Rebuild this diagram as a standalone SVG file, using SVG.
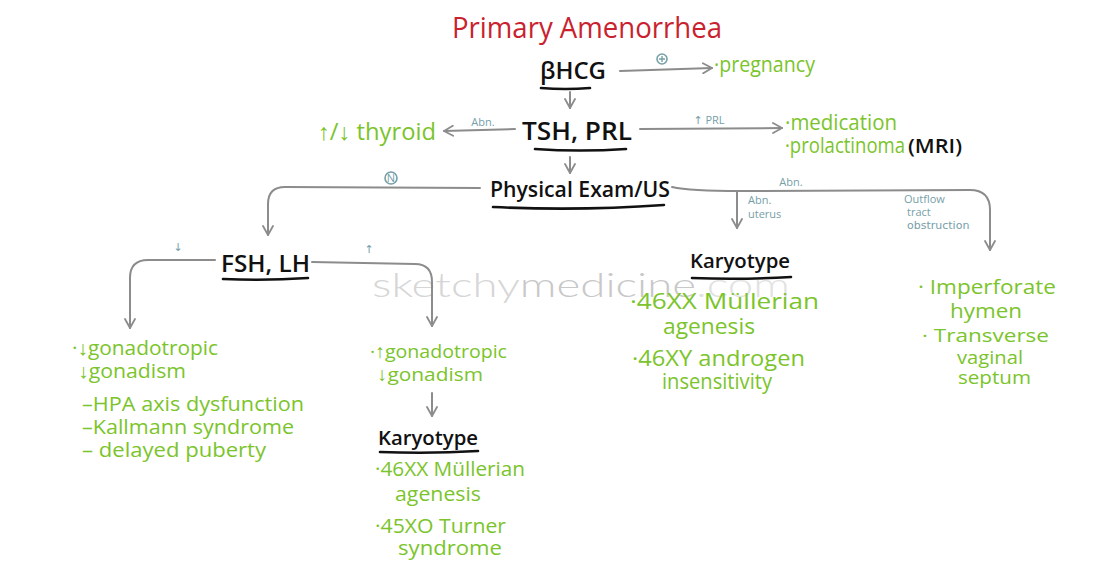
<svg xmlns="http://www.w3.org/2000/svg" width="1106" height="574" viewBox="0 0 1106 574">
<defs>
<marker id="ah" viewBox="0 0 12 12" refX="10" refY="6" markerWidth="12" markerHeight="12" markerUnits="userSpaceOnUse" orient="auto">
<path d="M1,1 L10,6 L1,11" fill="none" stroke="#8c8c8c" stroke-width="1.8" stroke-linecap="round" stroke-linejoin="round"/>
</marker>
<style>
.t{font-family:"Open Sans","Liberation Sans",sans-serif;}
.blk{fill:#111;font-weight:600;}
.grn{fill:#7bc42b;}
.lbl{fill:#76a0a8;font-size:11px;}
.ar{font-family:"DejaVu Sans",sans-serif;}
.ul{stroke:#111;stroke-width:2.6;fill:none;stroke-linecap:round;}
.cn{stroke:#8c8c8c;stroke-width:2;fill:none;stroke-linecap:round;marker-end:url(#ah);}
.wm{font-family:Lato,"Open Sans",sans-serif;font-weight:300;font-size:34px;}
</style>
</defs>
<rect width="1106" height="574" fill="#fff"/>
<text class="wm" x="372" y="297" fill="#d6d6d6" textLength="418" lengthAdjust="spacingAndGlyphs">sketchy<tspan fill="#c8c8c8">medicine</tspan><tspan fill="#e2e2e2">.com</tspan></text>
<g id="title"><text class="t" x="452" y="38" font-size="30" fill="#c9222e" textLength="270" lengthAdjust="spacingAndGlyphs">Primary Amenorrhea</text></g>
<g id="connectors">
<path class="cn" d="M620,71 L712,68"/>
<path class="cn" d="M570,92 L570,108"/>
<path class="cn" d="M515,129 L444,131"/>
<path class="cn" d="M640,129 L782,128"/>
<path class="cn" d="M570,157 L570,173"/>
<path class="cn" d="M480,188 L285,187 Q268,187 268,204 L268,235"/>
<path class="cn" d="M672,187 Q690,191 740,191 L970,190 Q990,190 990,210 L990,250"/>
<path class="cn" d="M737,192 L737,228"/>
<path class="cn" d="M215,260 L148,260 Q130,260 130,278 L130,328"/>
<path class="cn" d="M312,262 L415,264 Q432,264 432,282 L432,326"/>
<path class="cn" d="M432,393 L432,416"/>
</g>
<g id="labels" class="t">
<g><circle cx="662" cy="59" r="5" fill="none" stroke="#76a0a8" stroke-width="1.6"/><path d="M659,59 H665 M662,56 V62" stroke="#76a0a8" stroke-width="1.4"/></g>
<text class="lbl" x="483" y="126" text-anchor="middle">Abn.</text>
<text class="lbl" x="709" y="124" text-anchor="middle"><tspan class="ar">↑</tspan> PRL</text>
<g><circle cx="391" cy="178" r="6" fill="none" stroke="#76a0a8" stroke-width="1.6"/><text class="lbl" x="391" y="182" text-anchor="middle" font-size="9">N</text></g>
<text class="lbl" x="791" y="186" text-anchor="middle" font-size="12">Abn.</text>
<text class="lbl" x="748" y="204">Abn.</text>
<text class="lbl" x="748" y="218">uterus</text>
<text class="lbl" x="904" y="203" font-size="12">Outflow</text>
<text class="lbl" x="907" y="216">tract</text>
<text class="lbl ar" x="907" y="229" font-family="Open Sans">obstruction</text>
<text class="lbl ar" x="178" y="251" text-anchor="middle" font-size="14">↓</text>
<text class="lbl ar" x="369" y="253" text-anchor="middle" font-size="14">↑</text>
</g>
<g id="bhcg"><text class="t blk" x="540" y="79" font-size="23" textLength="66" lengthAdjust="spacingAndGlyphs">βHCG</text><path class="ul" d="M541,88 Q565,90 590,88"/></g>
<g id="pregnancy"><text class="t grn" x="714" y="72" font-size="21" textLength="101" lengthAdjust="spacingAndGlyphs">·pregnancy</text></g>
<g id="tsh"><text class="t blk" x="522" y="140" font-size="26" textLength="110" lengthAdjust="spacingAndGlyphs">TSH, PRL</text><path class="ul" d="M535,149 Q580,152 626,149"/></g>
<g id="thyroid"><text class="t grn" x="318" y="140" font-size="23" textLength="118" lengthAdjust="spacingAndGlyphs">↑/↓ thyroid</text></g>
<g id="prl-causes">
<text class="t grn" x="785" y="130" font-size="21" textLength="112" lengthAdjust="spacingAndGlyphs">·medication</text>
<text class="t grn" x="785" y="153" font-size="21" textLength="120" lengthAdjust="spacingAndGlyphs">·prolactinoma</text>
<text class="t blk" x="908" y="153" font-size="19" textLength="54" lengthAdjust="spacingAndGlyphs">(MRI)</text>
</g>
<g id="exam"><text class="t blk" x="490" y="197" font-size="21" textLength="180" lengthAdjust="spacingAndGlyphs">Physical Exam/US</text><path class="ul" d="M493,207 Q580,211 664,205"/></g>
<g id="fsh"><text class="t blk" x="221" y="272" font-size="24" textLength="89" lengthAdjust="spacingAndGlyphs">FSH, LH</text><path class="ul" d="M223,279 Q265,281 308,278"/></g>
<g id="low-gonad" class="t grn" font-size="20">
<text x="72" y="355" textLength="146" lengthAdjust="spacingAndGlyphs">·↓gonadotropic</text>
<text x="78" y="378" textLength="108" lengthAdjust="spacingAndGlyphs">↓gonadism</text>
<text x="82" y="411" textLength="222" lengthAdjust="spacingAndGlyphs">–HPA axis dysfunction</text>
<text x="82" y="434" textLength="212" lengthAdjust="spacingAndGlyphs">–Kallmann syndrome</text>
<text x="82" y="457" textLength="184" lengthAdjust="spacingAndGlyphs">– delayed puberty</text>
</g>
<g id="high-gonad" class="t grn" font-size="19">
<text x="370" y="358" textLength="137" lengthAdjust="spacingAndGlyphs">·↑gonadotropic</text>
<text x="377" y="381" textLength="106" lengthAdjust="spacingAndGlyphs">↓gonadism</text>
</g>
<g id="karyotype1">
<text class="t blk" x="378" y="445" font-size="20" textLength="100" lengthAdjust="spacingAndGlyphs">Karyotype</text><path class="ul" d="M380,452 Q430,454 478,451"/>
<g class="t grn" font-size="20">
<text x="375" y="476" textLength="150" lengthAdjust="spacingAndGlyphs">·46XX Müllerian</text>
<text x="395" y="501" textLength="86" lengthAdjust="spacingAndGlyphs">agenesis</text>
<text x="375" y="533" textLength="131" lengthAdjust="spacingAndGlyphs">·45XO Turner</text>
<text x="398" y="555" textLength="104" lengthAdjust="spacingAndGlyphs">syndrome</text>
</g>
</g>
<g id="karyotype2">
<text class="t blk" x="690" y="268" font-size="20" textLength="100" lengthAdjust="spacingAndGlyphs">Karyotype</text><path class="ul" d="M692,278 Q740,280 791,277"/>
<g class="t grn" font-size="22">
<text x="630" y="309" textLength="189" lengthAdjust="spacingAndGlyphs">·46XX  Müllerian</text>
<text x="663" y="334" textLength="92" lengthAdjust="spacingAndGlyphs">agenesis</text>
<text x="632" y="366" textLength="173" lengthAdjust="spacingAndGlyphs">·46XY androgen</text>
<text x="662" y="389" textLength="110" lengthAdjust="spacingAndGlyphs">insensitivity</text>
</g>
</g>
<g id="outflow" class="t grn" font-size="20">
<text x="918" y="294" textLength="138" lengthAdjust="spacingAndGlyphs">· Imperforate</text>
<text x="950" y="318" textLength="72" lengthAdjust="spacingAndGlyphs">hymen</text>
<text x="922" y="342" font-size="19" textLength="127" lengthAdjust="spacingAndGlyphs">· Transverse</text>
<text x="957" y="364" font-size="18" textLength="66" lengthAdjust="spacingAndGlyphs">vaginal</text>
<text x="958" y="384" font-size="18" textLength="73" lengthAdjust="spacingAndGlyphs">septum</text>
</g>
</svg>
